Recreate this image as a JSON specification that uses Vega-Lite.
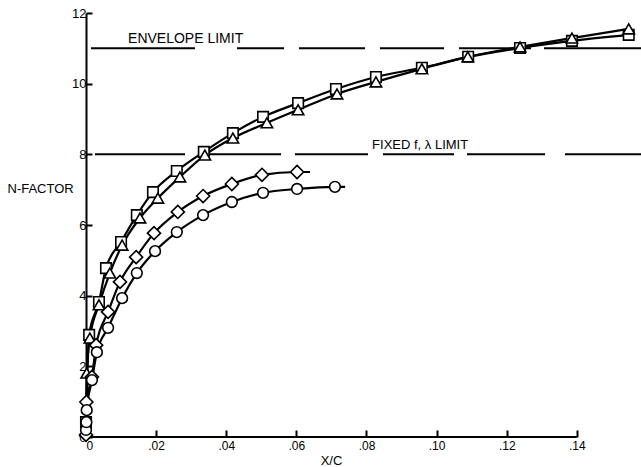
{
  "$schema": "https://vega.github.io/schema/vega-lite/v6.json",
  "width": 555,
  "height": 424,
  "autosize": {"type": "none"},
  "padding": {"left": 86, "top": 13, "right": 0, "bottom": 30},
  "background": "white",
  "config": {
    "view": {"stroke": null},
    "font": "Liberation Sans",
    "axis": {
      "grid": false, "titleFontWeight": "normal", "titleColor": "black", "titleFontSize": 13,
      "labelColor": "black", "tickColor": "black", "tickWidth": 2, "domainColor": "black", "domainWidth": 2
    },
    "axisX": {
      "titleX": 245, "titleY": 27, "titleBaseline": "alphabetic", "titleAlign": "center",
      "domain": false, "tickSize": -7, "labelPadding": 10, "labelFontSize": 12, "labelBaseline": "top"
    },
    "axisY": {
      "titleAngle": 0, "titleAlign": "left", "titleX": -79, "titleY": 175, "titleBaseline": "middle",
      "tickSize": -6, "labelPadding": 6, "labelFontSize": 13
    }
  },
  "datasets": {
    "curves": [
      {"series": "square", "xc": 0, "n": 0.42},
      {"series": "square", "xc": 0.0009, "n": 2.89},
      {"series": "square", "xc": 0.0037, "n": 3.82},
      {"series": "square", "xc": 0.0057, "n": 4.78},
      {"series": "square", "xc": 0.010, "n": 5.52},
      {"series": "square", "xc": 0.0145, "n": 6.28},
      {"series": "square", "xc": 0.0191, "n": 6.93},
      {"series": "square", "xc": 0.0259, "n": 7.53},
      {"series": "square", "xc": 0.0336, "n": 8.07},
      {"series": "square", "xc": 0.0419, "n": 8.6},
      {"series": "square", "xc": 0.0505, "n": 9.06},
      {"series": "square", "xc": 0.0605, "n": 9.45},
      {"series": "square", "xc": 0.0713, "n": 9.85},
      {"series": "square", "xc": 0.0827, "n": 10.19},
      {"series": "square", "xc": 0.0958, "n": 10.45},
      {"series": "square", "xc": 0.109, "n": 10.76},
      {"series": "square", "xc": 0.1238, "n": 11.01},
      {"series": "square", "xc": 0.1386, "n": 11.21},
      {"series": "square", "xc": 0.1548, "n": 11.38},
      {"series": "triangle", "xc": 0, "n": 0.17},
      {"series": "triangle", "xc": 0.0002, "n": 1.81},
      {"series": "triangle", "xc": 0.0011, "n": 2.8},
      {"series": "triangle", "xc": 0.0037, "n": 3.74},
      {"series": "triangle", "xc": 0.0068, "n": 4.64},
      {"series": "triangle", "xc": 0.0103, "n": 5.43},
      {"series": "triangle", "xc": 0.0154, "n": 6.2},
      {"series": "triangle", "xc": 0.0205, "n": 6.76},
      {"series": "triangle", "xc": 0.0268, "n": 7.36},
      {"series": "triangle", "xc": 0.0339, "n": 7.98},
      {"series": "triangle", "xc": 0.0419, "n": 8.46},
      {"series": "triangle", "xc": 0.0516, "n": 8.89},
      {"series": "triangle", "xc": 0.0605, "n": 9.26},
      {"series": "triangle", "xc": 0.0716, "n": 9.71},
      {"series": "triangle", "xc": 0.0827, "n": 10.05},
      {"series": "triangle", "xc": 0.0958, "n": 10.42},
      {"series": "triangle", "xc": 0.1089, "n": 10.76},
      {"series": "triangle", "xc": 0.1238, "n": 11.04},
      {"series": "triangle", "xc": 0.1386, "n": 11.29},
      {"series": "triangle", "xc": 0.1548, "n": 11.55},
      {"series": "diamond", "xc": 0, "n": 0.06},
      {"series": "diamond", "xc": 0.0001, "n": 0.99},
      {"series": "diamond", "xc": 0.0017, "n": 1.7},
      {"series": "diamond", "xc": 0.0029, "n": 2.6},
      {"series": "diamond", "xc": 0.0063, "n": 3.54},
      {"series": "diamond", "xc": 0.0097, "n": 4.39},
      {"series": "diamond", "xc": 0.0143, "n": 5.09},
      {"series": "diamond", "xc": 0.0194, "n": 5.77},
      {"series": "diamond", "xc": 0.0262, "n": 6.37},
      {"series": "diamond", "xc": 0.0334, "n": 6.82},
      {"series": "diamond", "xc": 0.0416, "n": 7.16},
      {"series": "diamond", "xc": 0.0502, "n": 7.42},
      {"series": "diamond", "xc": 0.0602, "n": 7.5},
      {"series": "diamond", "xc": 0.0639, "n": 7.5, "marker": "none"},
      {"series": "circle", "xc": 0, "n": 0.2},
      {"series": "circle", "xc": 0.0001, "n": 0.42},
      {"series": "circle", "xc": 0.0002, "n": 0.76},
      {"series": "circle", "xc": 0.0017, "n": 1.61},
      {"series": "circle", "xc": 0.0031, "n": 2.4},
      {"series": "circle", "xc": 0.0063, "n": 3.09},
      {"series": "circle", "xc": 0.0103, "n": 3.93},
      {"series": "circle", "xc": 0.0145, "n": 4.64},
      {"series": "circle", "xc": 0.0197, "n": 5.26},
      {"series": "circle", "xc": 0.0259, "n": 5.8},
      {"series": "circle", "xc": 0.0334, "n": 6.28},
      {"series": "circle", "xc": 0.0416, "n": 6.65},
      {"series": "circle", "xc": 0.0505, "n": 6.91},
      {"series": "circle", "xc": 0.0602, "n": 7.02},
      {"series": "circle", "xc": 0.071, "n": 7.08},
      {"series": "circle", "xc": 0.0739, "n": 7.08, "marker": "none"}
    ],
    "limits": [
      {"limit": "ENVELOPE LIMIT", "n": 11},
      {"limit": "FIXED f, λ LIMIT", "n": 8}
    ]
  },
  "layer": [
    {
      "data": {"name": "limits"},
      "mark": {"type": "rule", "color": "black", "strokeWidth": 2},
      "encoding": {
        "y": {
          "field": "n", "type": "quantitative", "title": "N-FACTOR",
          "scale": {"domain": [0, 12], "nice": false},
          "axis": {"values": [0, 2, 4, 6, 8, 10, 12]}
        },
        "strokeDash": {
          "field": "limit",
          "type": "nominal",
          "scale": {
            "domain": ["ENVELOPE LIMIT", "FIXED f, λ LIMIT"],
            "range": [[97, 13, 72, 15, 64, 15, 66, 15, 47, 42, 104, 30], [76, 20, 78, 13, 71, 15, 73, 14, 81, 15, 90, 30]]
          },
          "legend": null
        }
      }
    },
    {
      "data": {"values": [{}]},
      "mark": {"type": "rule", "color": "black", "strokeWidth": 2},
      "encoding": {
        "x": {
          "datum": 0, "type": "quantitative", "title": "X/C",
          "scale": {"domain": [0, 0.1583], "nice": false, "zero": false},
          "axis": {
            "values": [0, 0.02, 0.04, 0.06, 0.08, 0.1, 0.12, 0.14],
            "labelExpr": "datum.value == 0 ? '0' : replace(format(datum.value, '.2f'), '0.', '.')"
          }
        },
        "x2": {"datum": 0.14},
        "y": {"datum": 0, "type": "quantitative", "title": "N-FACTOR"}
      }
    },
    {
      "data": {"name": "curves"},
      "mark": {"type": "line", "color": "black", "strokeWidth": 2.2, "interpolate": "monotone"},
      "encoding": {
        "x": {"field": "xc", "type": "quantitative", "title": "X/C"},
        "y": {"field": "n", "type": "quantitative", "title": "N-FACTOR"},
        "detail": {"field": "series", "type": "nominal"}
      }
    },
    {
      "data": {"name": "curves"},
      "transform": [{"filter": "datum.marker != 'none'"}],
      "mark": {"type": "point", "filled": false, "fill": "white", "fillOpacity": 1, "stroke": "black", "strokeWidth": 1.6, "opacity": 1},
      "encoding": {
        "x": {"field": "xc", "type": "quantitative", "title": "X/C"},
        "y": {"field": "n", "type": "quantitative", "title": "N-FACTOR"},
        "shape": {
          "field": "series", "type": "nominal",
          "scale": {"domain": ["square", "triangle", "diamond", "circle"], "range": ["square", "triangle-up", "diamond", "circle"]},
          "legend": null
        },
        "size": {
          "field": "series", "type": "ordinal",
          "scale": {"type": "ordinal", "domain": ["square", "triangle", "diamond", "circle"], "range": [110, 130, 170, 115]},
          "legend": null
        }
      }
    },
    {
      "data": {"values": [{}]},
      "mark": {"type": "text", "align": "left", "baseline": "alphabetic", "fontSize": 14, "dy": -5, "color": "black"},
      "encoding": {
        "x": {"datum": 0.012, "type": "quantitative", "title": "X/C"},
        "y": {"datum": 11, "type": "quantitative", "title": "N-FACTOR"},
        "text": {"value": "ENVELOPE LIMIT"}
      }
    },
    {
      "data": {"values": [{}]},
      "mark": {"type": "text", "align": "left", "baseline": "alphabetic", "fontSize": 13, "dy": -5, "color": "black"},
      "encoding": {
        "x": {"datum": 0.0816, "type": "quantitative", "title": "X/C"},
        "y": {"datum": 8, "type": "quantitative", "title": "N-FACTOR"},
        "text": {"value": "FIXED f,  λ LIMIT"}
      }
    }
  ]
}
